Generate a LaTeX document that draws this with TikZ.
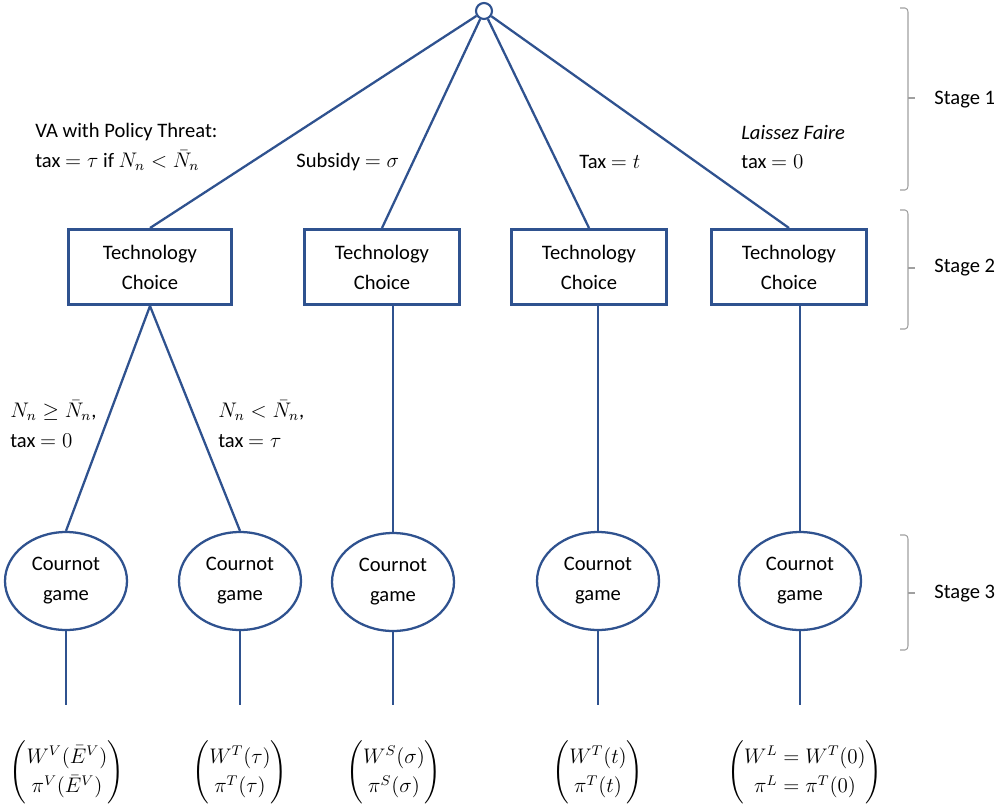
\documentclass[tikz,border=0pt]{standalone}
\usepackage{amsmath}
\usepackage{fontspec}
\setmainfont{Carlito}
\usetikzlibrary{shapes.geometric}
\definecolor{tblue}{RGB}{47,82,143}
\definecolor{bgray}{RGB}{160,160,160}
\begin{document}
\begin{tikzpicture}[x=0.02cm,y=-0.02cm,
  every node/.style={font=\fontsize{11.7}{17}\selectfont},
  conn/.style={draw=tblue,line width=1.3pt},
  techbox/.style={draw=tblue,line width=1.7pt,minimum width=3.1cm,minimum height=1.5cm,align=center,inner sep=2pt},
  cournot/.style={ellipse,draw=tblue,line width=1.3pt,minimum width=2.44cm,minimum height=1.96cm,align=center,inner sep=0pt},
  lbl/.style={align=left,inner sep=0pt,anchor=west},
  brace/.style={draw=bgray,line width=0.6pt},
  stagelbl/.style={anchor=west,inner sep=0pt}]
\useasboundingbox (0,0) rectangle (1000,805);
% root
\node[circle,draw=tblue,line width=1.2pt,fill=white,minimum size=0.32cm,inner sep=0pt] (root) at (484,11) {};
% boxes
\node[techbox,minimum width=3.28cm] (b1) at (150,267) {Technology\\Choice};
\node[techbox] (b2) at (382,267) {Technology\\Choice};
\node[techbox] (b3) at (589,267) {Technology\\Choice};
\node[techbox] (b4) at (789,267) {Technology\\Choice};
% ellipses
\node[cournot] (e1) at (66,581) {Cournot\\game};
\node[cournot] (e2) at (240,581) {Cournot\\game};
\node[cournot] (e3) at (393,582) {Cournot\\game};
\node[cournot] (e4) at (598,581) {Cournot\\game};
\node[cournot] (e5) at (800,581) {Cournot\\game};
% payoffs
\node (p1) at (67,772) {$\begin{pmatrix} W^V(\bar{E}^V)\\ \pi^V(\bar{E}^V)\end{pmatrix}$};
\node (p2) at (240,772) {$\begin{pmatrix} W^T(\tau)\\ \pi^T(\tau)\end{pmatrix}$};
\node (p3) at (394,772) {$\begin{pmatrix} W^S(\sigma)\\ \pi^S(\sigma)\end{pmatrix}$};
\node (p4) at (598,772) {$\begin{pmatrix} W^T(t)\\ \pi^T(t)\end{pmatrix}$};
\node (p5) at (805,772) {$\begin{pmatrix} W^L=W^T(0)\\ \pi^L=\pi^T(0)\end{pmatrix}$};
\coordinate (q1) at (66,705);
\coordinate (q2) at (240,705);
\coordinate (q3) at (393,705);
\coordinate (q4) at (598,705);
\coordinate (q5) at (800,705);
% connectors
\draw[conn] (root) -- (b1.north);
\draw[conn] (root) -- (b2.north);
\draw[conn] (root) -- (b3.north);
\draw[conn] (root) -- (b4.north);
\draw[conn] (b1.south) -- (e1.north);
\draw[conn] (b1.south) -- (e2.north);
\draw[conn] (e3.north |- b2.south) -- (e3.north);
\draw[conn] (e4.north |- b3.south) -- (e4.north);
\draw[conn] (e5.north |- b4.south) -- (e5.north);
\draw[conn] (e1.south) -- (q1);
\draw[conn] (e2.south) -- (q2);
\draw[conn] (e3.south) -- (q3);
\draw[conn] (e4.south) -- (q4);
\draw[conn] (e5.south) -- (q5);
% labels
\node[lbl] (l1) at (35,147) {VA with Policy Threat:\\tax $=\tau$ if $N_n<\bar{N}_n$};
\node[lbl] (l2) at (296,162) {Subsidy $=\sigma$};
\node[lbl] (l3) at (579,162) {Tax $=t$};
\node[lbl] (l4) at (741,147) {\textit{Laissez Faire}\\tax $=0$};
\node[lbl] (l5) at (10,424) {$N_n\geq\bar{N}_n$,\\tax $=0$};
\node[lbl] (l6) at (218,424) {$N_n<\bar{N}_n$,\\tax $=\tau$};
% stage braces
\draw[brace] (900,8) -- (905,8) to[out=0,in=90] (908,12) -- (908,186) to[out=-90,in=0] (905,190) -- (900,190);
\draw[brace] (908,98) -- (915,98);
\node[stagelbl] (s1) at (934,100) {Stage 1};
\draw[brace] (900,210) -- (905,210) to[out=0,in=90] (908,214) -- (908,325) to[out=-90,in=0] (905,329) -- (900,329);
\draw[brace] (908,268) -- (915,268);
\node[stagelbl] (s2) at (934,268) {Stage 2};
\draw[brace] (900,535) -- (905,535) to[out=0,in=90] (908,539) -- (908,646) to[out=-90,in=0] (905,650) -- (900,650);
\draw[brace] (908,593) -- (915,593);
\node[stagelbl] (s3) at (934,594) {Stage 3};
\end{tikzpicture}
\end{document}
